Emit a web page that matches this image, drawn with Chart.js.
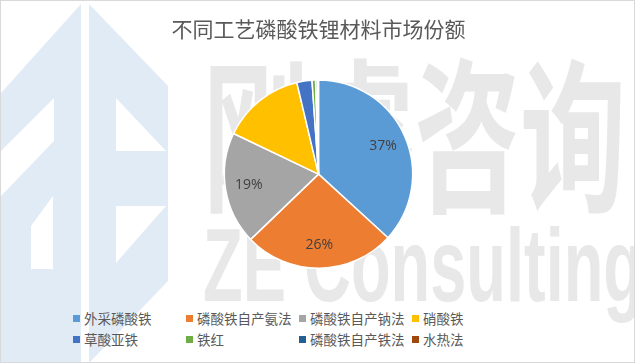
<!DOCTYPE html>
<html>
<head>
<meta charset="utf-8">
<script src="https://cdn.jsdelivr.net/npm/chart.js@4/dist/chart.umd.min.js"></script>
<style>
  body { margin: 0; background: #fff; }
  #wrap { position: relative; width: 635px; height: 363px; box-sizing: border-box; border: 1px solid #d9d9d9; overflow: hidden; }
  #bg { position: absolute; left: 0; top: 0; }
  #chart { position: absolute; left: 0; top: 0; }
  #legend { position: absolute; left: 72px; top: 308px; display: grid; grid-template-columns: repeat(4, 113px); row-gap: 3px;
            font-family: 'Noto Sans CJK SC', sans-serif; font-size: 13.5px; color: #595959; }
  #legend div { display: flex; align-items: center; height: 18px; white-space: nowrap; }
  #legend span.sw { display: inline-block; width: 7px; height: 7px; margin-right: 4px; }
</style>
</head>
<body>
<div id="wrap">
  <!-- watermark behind the chart -->
  <svg id="bg" width="635" height="363">
    <g fill="#e1ebf5">
      <polygon points="80,3 0,92 0,362 80,362"/>
      <polygon points="88,3 167,85 167,280 88,362"/>
    </g>
    <g fill="#fff">
      <polygon points="53,97 53,140 0,195 0,150"/>
      <polygon points="52,195 52,268 30,268 30,225"/>
      <polygon points="115,97 115,150 165,150"/>
      <polygon points="115,205 165,205 115,262"/>
    </g>
    <text x="202" y="198" font-family="Noto Sans CJK SC" font-weight="bold" font-size="165" fill="#e8e8e8"
          textLength="423" lengthAdjust="spacingAndGlyphs">刚睿咨询</text>
    <text x="202" y="300" font-family="Liberation Sans Narrow, Liberation Sans" font-weight="bold" font-size="104" fill="#e8e8e8"
          textLength="440" lengthAdjust="spacingAndGlyphs">ZE Consulting</text>
  </svg>
  <canvas id="chart" width="635" height="300"></canvas>
  <div id="legend"></div>
</div>
<script>
const labels = ['外采磷酸铁', '磷酸铁自产氨法', '磷酸铁自产钠法', '硝酸铁', '草酸亚铁', '铁红', '磷酸铁自产铁法', '水热法'];
const shares = [36.8, 26.0, 19.3, 14.2, 2.6, 0.6, 0.3, 0.2];
const colors = ['#5B9BD5', '#ED7D31', '#A5A5A5', '#FFC000', '#4472C4', '#70AD47', '#255E91', '#9E480E'];
const title = '不同工艺磷酸铁锂材料市场份额';

// Percent labels inside the larger slices.
const pctLabels = {
  id: 'pctLabels',
  afterDatasetsDraw(chart) {
    const ctx = chart.ctx;
    const total = shares.reduce((a, b) => a + b, 0);
    ctx.save();
    ctx.font = '14px "Open Sans", sans-serif';
    ctx.fillStyle = '#404040';
    ctx.textAlign = 'center';
    ctx.textBaseline = 'middle';
    chart.getDatasetMeta(0).data.forEach((arc, i) => {
      const pct = Math.round(shares[i] / total * 100);
      if (pct < 15) return;
      const mid = (arc.startAngle + arc.endAngle) / 2;
      const r = arc.outerRadius * 0.75;
      ctx.fillText(pct + '%', arc.x + Math.cos(mid) * r, arc.y + Math.sin(mid) * r);
    });
    ctx.restore();
  }
};

new Chart(document.getElementById('chart'), {
  type: 'pie',
  data: {
    labels: labels,
    datasets: [{
      data: shares,
      backgroundColor: colors,
      borderColor: '#ffffff',
      borderWidth: 1.5
    }]
  },
  options: {
    responsive: false,
    animation: false,
    layout: { padding: { bottom: 32 } },
    plugins: {
      legend: { display: false },
      tooltip: { enabled: false },
      title: {
        display: true,
        text: title,
        color: '#595959',
        font: { family: 'Noto Sans CJK SC', size: 21, weight: 'normal' },
        padding: { top: 15, bottom: 38 }
      }
    }
  },
  plugins: [pctLabels]
});

// html legend in a fixed grid, like the original
const legend = document.getElementById('legend');
labels.forEach((name, i) => {
  const item = document.createElement('div');
  item.innerHTML = '<span class="sw" style="background:' + colors[i] + '"></span>' + name;
  legend.appendChild(item);
});
</script>
</body>
</html>
